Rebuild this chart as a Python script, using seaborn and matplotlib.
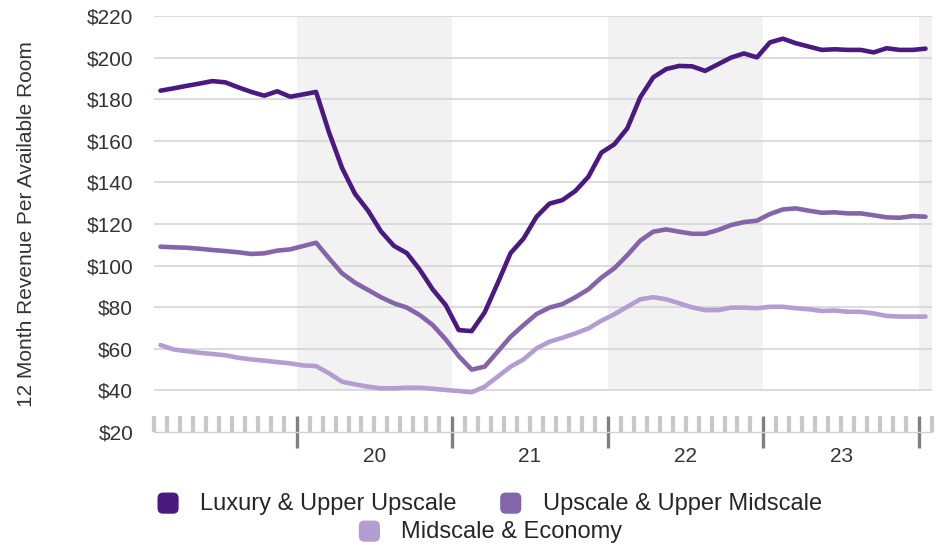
import numpy as np
import pandas as pd
import matplotlib
matplotlib.use("Agg")
import matplotlib.pyplot as plt
from matplotlib.patches import FancyBboxPatch
from matplotlib.legend_handler import HandlerBase
from matplotlib.patches import Patch
from matplotlib.transforms import blended_transform_factory
import seaborn as sns

# ---- data (12-month RevPAR, Feb 2019 .. Jan 2024, monthly) ----
start_month = "2019-02"
n_months = 60

luxury = [184.1, 185.2, 186.4, 187.5, 188.7, 188.1, 185.7, 183.5, 181.7, 183.8,
          181.2, 182.3, 183.5, 164.0, 147.0, 134.5, 126.5, 116.5, 109.5, 106.0,
          98.0, 88.5, 81.0, 69.0, 68.5, 77.5, 91.5, 106.0, 113.0, 123.5,
          129.8, 131.5, 135.9, 142.7, 154.3, 158.3, 166.0, 180.9, 190.5, 194.5,
          196.0, 195.8, 193.6, 196.8, 200.0, 202.0, 200.1, 207.3, 209.1, 206.9,
          205.3, 203.7, 204.0, 203.7, 203.7, 202.5, 204.5, 203.7, 203.7, 204.3]

upscale = [109.1, 108.8, 108.6, 108.1, 107.5, 107.0, 106.4, 105.6, 105.9, 107.2,
           107.8, 109.4, 111.0, 103.5, 96.3, 91.8, 88.3, 84.8, 81.9, 79.8,
           76.2, 71.4, 64.5, 56.5, 50.0, 51.4, 58.6, 65.8, 71.4, 76.7,
           79.8, 81.5, 84.8, 88.6, 94.2, 98.7, 105.0, 112.0, 116.3, 117.4,
           116.3, 115.3, 115.3, 117.1, 119.5, 120.9, 121.6, 124.8, 127.0, 127.5,
           126.4, 125.4, 125.6, 125.1, 125.1, 124.2, 123.2, 123.0, 123.8, 123.5]

midscale = [61.8, 59.7, 58.9, 58.1, 57.5, 56.9, 55.7, 54.9, 54.3, 53.6,
            53.0, 52.0, 51.7, 48.2, 44.2, 42.9, 41.8, 41.0, 41.0, 41.3,
            41.3, 40.8, 40.2, 39.7, 39.1, 41.8, 46.6, 51.4, 54.9, 60.2,
            63.4, 65.3, 67.4, 69.8, 73.5, 76.6, 80.2, 83.8, 84.8, 83.8,
            81.9, 79.9, 78.6, 78.6, 79.8, 79.8, 79.5, 80.2, 80.2, 79.5,
            79.0, 78.2, 78.4, 77.8, 77.8, 77.0, 75.8, 75.5, 75.5, 75.5]

series_names = ["Luxury & Upper Upscale", "Upscale & Upper Midscale", "Midscale & Economy"]
series_colors = ["#4a1a80", "#8565a9", "#b49dd1"]
year_labels = ["20", "21", "22", "23"]
y_ticks = [20, 40, 60, 80, 100, 120, 140, 160, 180, 200, 220]

# month index: 0 = Jan 2019; points plotted mid-month
first = pd.Period(start_month, freq="M")
month_idx = np.array([(first + i).ordinal - pd.Period("2019-01", freq="M").ordinal
                      for i in range(n_months)])
x_vals = month_idx + 0.5

df = pd.concat([
    pd.DataFrame({"x": x_vals, "value": vals, "segment": name})
    for name, vals in zip(series_names, [luxury, upscale, midscale])
])

sns.set_style("white")
plt.rcParams["font.family"] = ["Liberation Sans", "DejaVu Sans"]

fig = plt.figure(figsize=(9.41, 5.45), dpi=100)
ax = fig.add_axes([154 / 941, 1 - 432 / 545, (932 - 154) / 941, (432 - 16) / 545])

# shaded alternating years
for a, b in [(12, 24), (36, 48), (60, 61)]:
    ax.axvspan(a, b, ymin=0.1, ymax=1.0, color="#f2f2f2", zorder=0.2, lw=0)

sns.lineplot(data=df, x="x", y="value", hue="segment", palette=series_colors,
             hue_order=series_names, linewidth=3.3, ax=ax, legend=False, zorder=3)

ax.set_xlim(1, 61)
ax.set_ylim(20, 220)
ax.set_yticks(y_ticks)
ax.set_yticklabels([f"${v}" for v in y_ticks])
ax.set_axisbelow(True)
for v in y_ticks[1:]:
    ax.axhline(v, color="#d2d2d2", lw=1.1, zorder=0.5)

majors = [12, 24, 36, 48, 60]
ax.set_xticks(majors)
ax.set_xticklabels([""] * len(majors))
ax.set_xticks([m for m in range(1, 62) if m not in majors], minor=True)
ax.tick_params(axis="x", which="minor", direction="in", length=11.5, width=3.0,
               color="#c8c8c8", bottom=True)
ax.tick_params(axis="x", which="major", direction="inout", length=23, width=2.4,
               color="#808080", bottom=True)
ax.tick_params(axis="y", length=0, pad=15, labelsize=15, labelcolor="#333333")

for s in ["top", "right", "left"]:
    ax.spines[s].set_visible(False)
ax.spines["bottom"].set_color("#d0d0d0")
ax.spines["bottom"].set_linewidth(1.0)

ax.set_xlabel("")
ax.set_ylabel("12 Month Revenue Per Available Room", fontsize=15, color="#333333")
ax.yaxis.set_label_coords((27 - 154) / 778, 0.5)
ax.yaxis.label.set_verticalalignment("center")

trans = blended_transform_factory(ax.transData, ax.transAxes)
for i, lab in enumerate(year_labels):
    ax.text(12 * (i + 1) + 6, -0.058, lab, transform=trans, ha="center", va="center",
            fontsize=15, color="#333333")


class RoundSquareHandler(HandlerBase):
    def create_artists(self, legend, orig_handle, xdescent, ydescent, width, height,
                       fontsize, trans):
        size = min(width, height) * 1.0
        x0 = -xdescent + (width - size) / 2
        y0 = -ydescent + (height - size) / 2 - 1
        p = FancyBboxPatch((x0 + 3, y0 + 3), size - 6, size - 6,
                           boxstyle="round,pad=3,rounding_size=4",
                           facecolor=orig_handle.get_facecolor(), edgecolor="none",
                           transform=trans)
        return [p]


handles = [Patch(facecolor=c) for c in series_colors]
common = dict(loc="center", frameon=False, fontsize=17, handlelength=1.0,
              handleheight=1.0, handletextpad=0.85, columnspacing=1.8,
              handler_map={Patch: RoundSquareHandler()})
leg1 = fig.legend(handles[:2], series_names[:2], ncol=2,
                  bbox_to_anchor=(489 / 941, 1 - 503 / 545), **common)
leg2 = fig.legend(handles[2:], series_names[2:], ncol=1,
                  bbox_to_anchor=(490 / 941, 1 - 531 / 545), **common)

fig.savefig("out.png", dpi=100)
